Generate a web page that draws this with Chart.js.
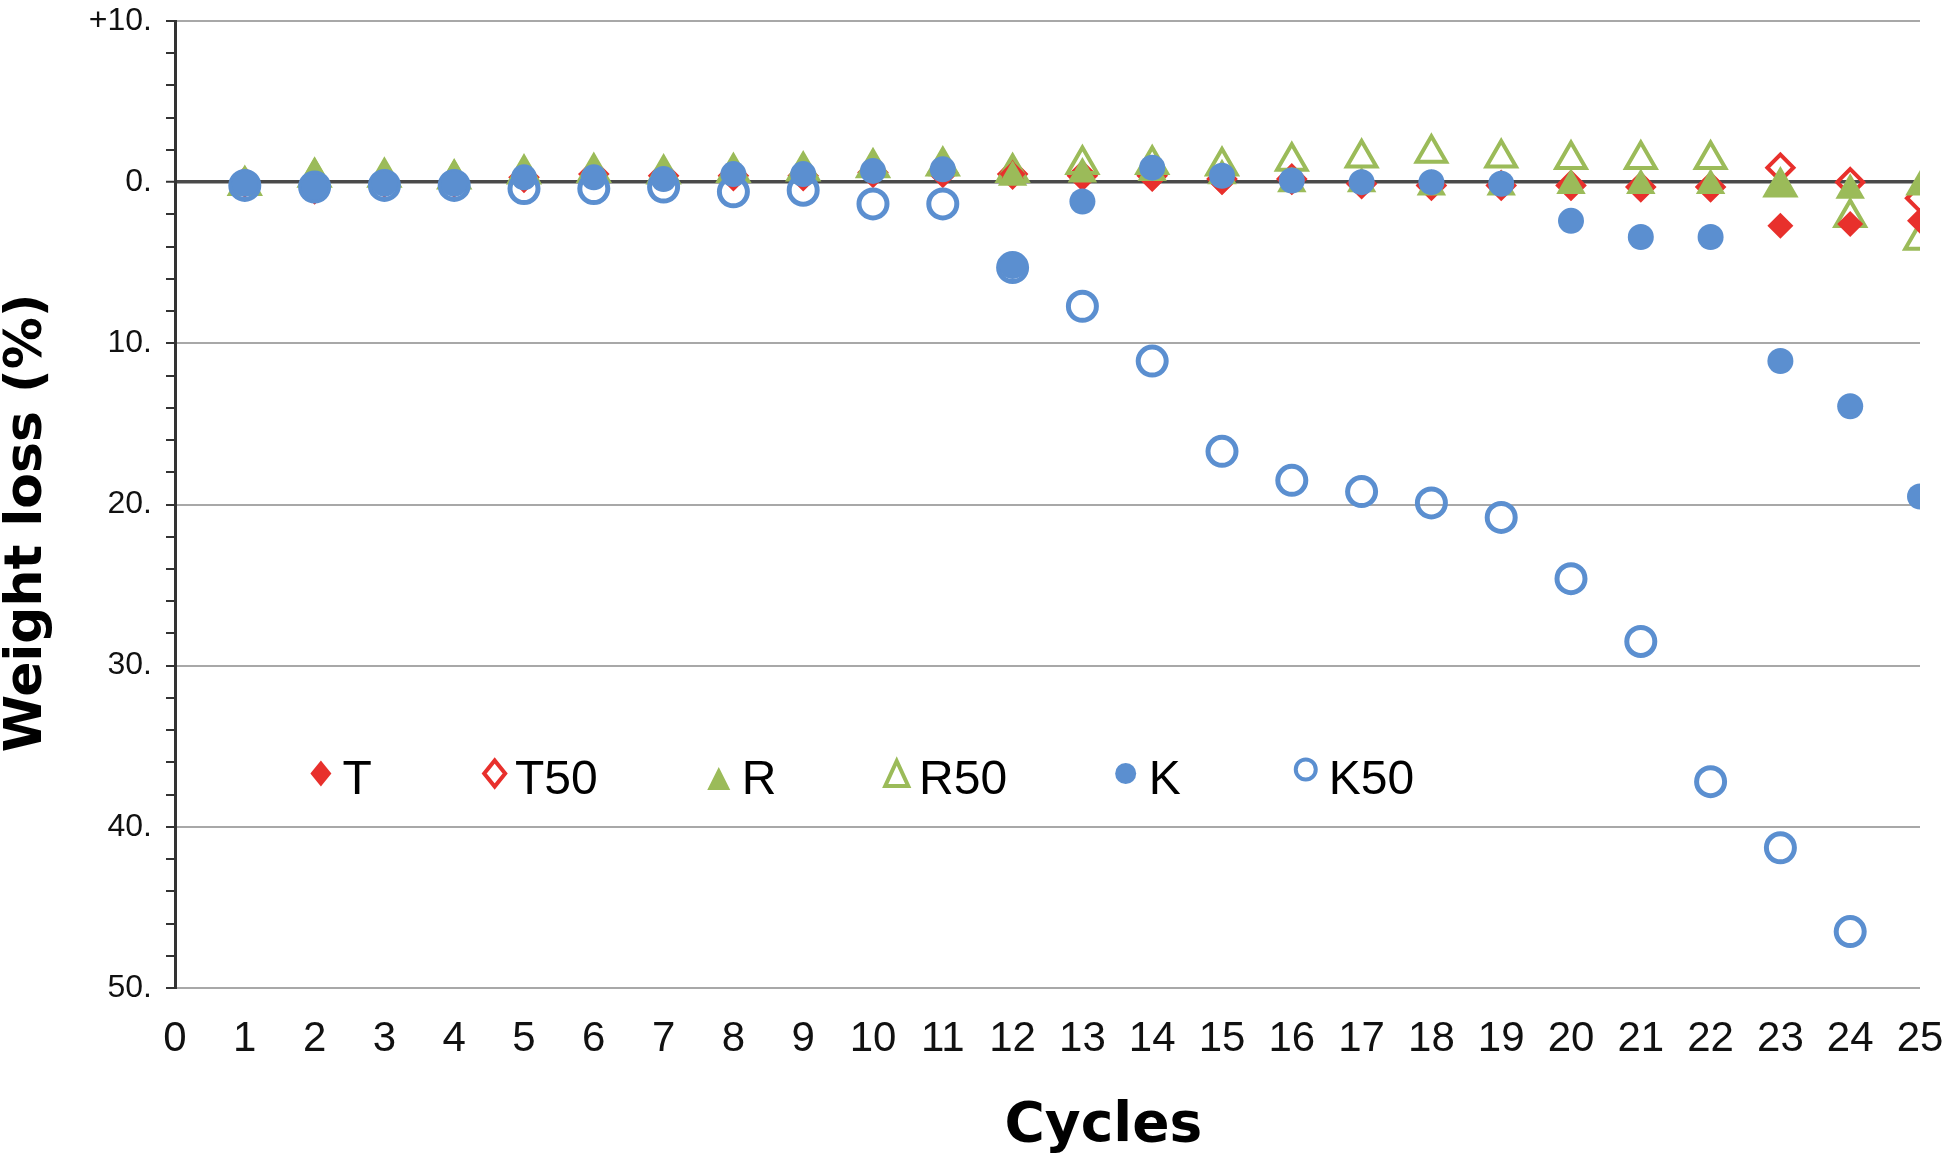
<!DOCTYPE html>
<html>
<head>
<meta charset="utf-8">
<script src="https://cdn.jsdelivr.net/npm/chart.js@4.4.1/dist/chart.umd.min.js"></script>
<style>
html,body{margin:0;padding:0;background:#ffffff;}
canvas{display:block;}
</style>
</head>
<body>
<canvas id="c" width="1946" height="1163"></canvas>
<script>
// ---- data ----
const cycles = [1,2,3,4,5,6,7,8,9,10,11,12,13,14,15,16,17,18,19,20,21,22,23,24,25];
const T   = [0.0, 0.6, 0.1, 0.0, -0.2, -0.4, -0.3, -0.4, -0.4, -0.7, -0.6, -0.5, -0.3, -0.2, 0.0, 0.0, 0.2, 0.3, 0.3, 0.3, 0.3, 0.3, 2.7, 2.6, 2.4];
const T50 = [0.0, 0.2, 0.0, 0.0, -0.3, -0.5, -0.4, -0.4, -0.4, -0.6, -0.6, -0.5, -0.4, -0.4, -0.2, -0.2, 0.1, 0.2, 0.2, 0.2, 0.3, 0.3, -0.9, 0.0, 1.0];
const R   = [0.3, -0.5, -0.4, -0.4, -0.6, -0.7, -0.6, -0.7, -0.7, -0.8, -0.9, -0.3, -0.5, -0.6, -0.4, 0.1, 0.1, 0.3, 0.3, 0.2, 0.2, 0.2, 0.4, 0.5, 0.3];
const R50 = [0.2, -0.3, -0.3, -0.2, -0.5, -0.6, -0.5, -0.6, -0.7, -0.9, -1.0, -0.6, -1.1, -1.1, -1.0, -1.3, -1.5, -1.8, -1.5, -1.4, -1.4, -1.4, 0.3, 2.2, 3.6];
const K   = [0.1, 0.3, 0.1, 0.1, -0.3, -0.3, -0.2, -0.5, -0.5, -0.7, -0.8, 5.2, 1.2, -0.9, -0.4, -0.1, 0.0, 0.0, 0.1, 2.4, 3.4, 3.4, 11.1, 13.9, 19.5];
const K50 = [0.2, 0.3, 0.2, 0.2, 0.4, 0.4, 0.3, 0.6, 0.5, 1.35, 1.35, 5.3, 7.7, 11.1, 16.7, 18.5, 19.2, 19.9, 20.8, 24.6, 28.5, 37.2, 41.3, 46.5, null];
const seriesNames = ['T', 'T50', 'R', 'R50', 'K', 'K50'];
const xTitle = 'Cycles';
const yTitle = 'Weight loss (%)';

// ---- styles ----
const RED = '#e8302c', GREEN = '#9bbb59', BLUE = '#5b8fd0', NONE = 'rgba(0,0,0,0)';

function pts(arr) {
  const out = [];
  cycles.forEach((c, i) => { if (arr[i] !== null && arr[i] !== undefined) out.push({x: c, y: arr[i]}); });
  return out;
}

const styles = {
  T:   {pointStyle: 'rectRot',  radius: 13, bg: RED,   border: RED,   bw: 0, order: 4},
  T50: {pointStyle: 'rectRot',  radius: 13, bg: NONE,  border: RED,   bw: 4, order: 6},
  R:   {pointStyle: 'triangle', radius: 17, bg: GREEN, border: GREEN, bw: 0, order: 3},
  R50: {pointStyle: 'triangle', radius: 17, bg: NONE,  border: GREEN, bw: 4, order: 5},
  K:   {pointStyle: 'circle',   radius: 13, bg: BLUE,  border: BLUE,  bw: 0, order: 1},
  K50: {pointStyle: 'circle',   radius: 14, bg: NONE,  border: BLUE,  bw: 5, order: 2}
};
const seriesData = {T, T50, R, R50, K, K50};

const datasets = seriesNames.map(name => {
  const s = styles[name];
  return {
    label: name,
    data: pts(seriesData[name]),
    showLine: false,
    pointStyle: s.pointStyle,
    pointRadius: s.radius,
    pointHoverRadius: s.radius,
    pointBackgroundColor: s.bg,
    pointBorderColor: s.border,
    pointBorderWidth: s.bw,
    backgroundColor: s.bg,
    borderColor: s.border,
    order: s.order
  };
});

// custom in-plot legend (Excel style), positions in axis units
const legendLayout = [
  {name: 'T',   mx: 2.09,  tx: 2.40},
  {name: 'T50', mx: 4.58,  tx: 4.87},
  {name: 'R',   mx: 7.79,  tx: 8.12},
  {name: 'R50', mx: 10.34, tx: 10.66},
  {name: 'K',   mx: 13.62, tx: 13.95},
  {name: 'K50', mx: 16.20, tx: 16.53}
];
const legendY = 37.0;

function drawMarker(ctx, name, x, y) {
  const s = styles[name];
  ctx.save();
  ctx.beginPath();
  if (s.pointStyle === 'rectRot') {
    const hw = 10.5, hh = 13;
    ctx.moveTo(x - hw, y); ctx.lineTo(x, y - hh); ctx.lineTo(x + hw, y); ctx.lineTo(x, y + hh); ctx.closePath();
  } else if (s.pointStyle === 'triangle') {
    const hw = 11.5, h = s.bw ? 25 : 23;
    ctx.moveTo(x, y - h / 2); ctx.lineTo(x + hw, y + h / 2); ctx.lineTo(x - hw, y + h / 2); ctx.closePath();
  } else {
    ctx.arc(x, y, s.bw ? 10 : 10.5, 0, Math.PI * 2);
  }
  if (s.bw) {
    ctx.lineWidth = 4; ctx.strokeStyle = s.border; ctx.stroke();
  } else {
    ctx.fillStyle = s.bg; ctx.fill();
  }
  ctx.restore();
}

const excelDecor = {
  id: 'excelDecor',
  afterDraw(chart) {
    const ctx = chart.ctx;
    const xs = chart.scales.x, ys = chart.scales.y;
    const yy = ys.getPixelForValue(legendY);
    ctx.save();
    legendLayout.forEach(it => {
      const dy = it.name === 'K50' ? -9 : (it.name === 'R' ? 0 : -5);
      drawMarker(ctx, it.name, xs.getPixelForValue(it.mx), yy + dy);
      ctx.font = '48px "Liberation Sans", Arial, sans-serif';
      ctx.fillStyle = '#000';
      ctx.textAlign = 'left';
      ctx.textBaseline = 'middle';
      ctx.fillText(it.name, xs.getPixelForValue(it.tx), yy + 2);
    });
    const ca = chart.chartArea;
    // x axis title
    ctx.font = 'bold 55px "DejaVu Sans", sans-serif';
    ctx.fillStyle = '#000';
    ctx.textAlign = 'center';
    ctx.textBaseline = 'middle';
    ctx.fillText(xTitle, ca.left + 0.532 * (ca.right - ca.left), 1127);
    // y axis title (rotated)
    ctx.save();
    ctx.translate(27, ca.top + 0.519 * (ca.bottom - ca.top));
    ctx.rotate(-Math.PI / 2);
    ctx.font = 'bold 52px "DejaVu Sans", sans-serif';
    ctx.fillText(yTitle, 0, 0);
    ctx.restore();
    ctx.restore();
  }
};

new Chart(document.getElementById('c'), {
  type: 'scatter',
  data: {datasets},
  options: {
    responsive: false,
    animation: false,
    devicePixelRatio: 1,
    layout: {padding: {left: 0, top: 18, right: 26, bottom: 0}},
    plugins: {legend: {display: false}, tooltip: {enabled: false}},
    scales: {
      x: {
        type: 'linear', min: 0, max: 25,
        afterFit: s => { s.height = 175; s.paddingLeft = 0; s.paddingRight = 0; },
        ticks: {stepSize: 1, autoSkip: false, maxRotation: 0, padding: 18,
                font: {family: '"Liberation Sans", Arial, sans-serif', size: 42}, color: '#111'},
        grid: {display: false},
        border: {display: false}
      },
      y: {
        type: 'linear', min: -10, max: 50, reverse: true,
        afterFit: s => { s.width = 175; s.paddingTop = 0; s.paddingBottom = 0; },
        ticks: {
          stepSize: 2, autoSkip: false, padding: 14,
          font: {family: '"Liberation Sans", Arial, sans-serif', size: 32}, color: '#111',
          callback: v => (Math.abs(v % 10) < 1e-9) ? (v < 0 ? '+' + (-v) + '.' : v + '.') : ''
        },
        grid: {
          drawOnChartArea: true, drawTicks: true, tickLength: 9,
          color: c => (c.tick && c.tick.value === 0) ? '#4a4a4a' : ((c.tick && Math.abs(c.tick.value % 10) < 1e-9) ? '#a8a8a8' : NONE),
          lineWidth: c => (c.tick && c.tick.value === 0) ? 3.5 : 2,
          tickColor: '#333', tickWidth: 2
        },
        border: {display: true, color: '#333', width: 3},
        title: {display: false, text: yTitle}
      }
    }
  },
  plugins: [excelDecor]
});
</script>
</body>
</html>
